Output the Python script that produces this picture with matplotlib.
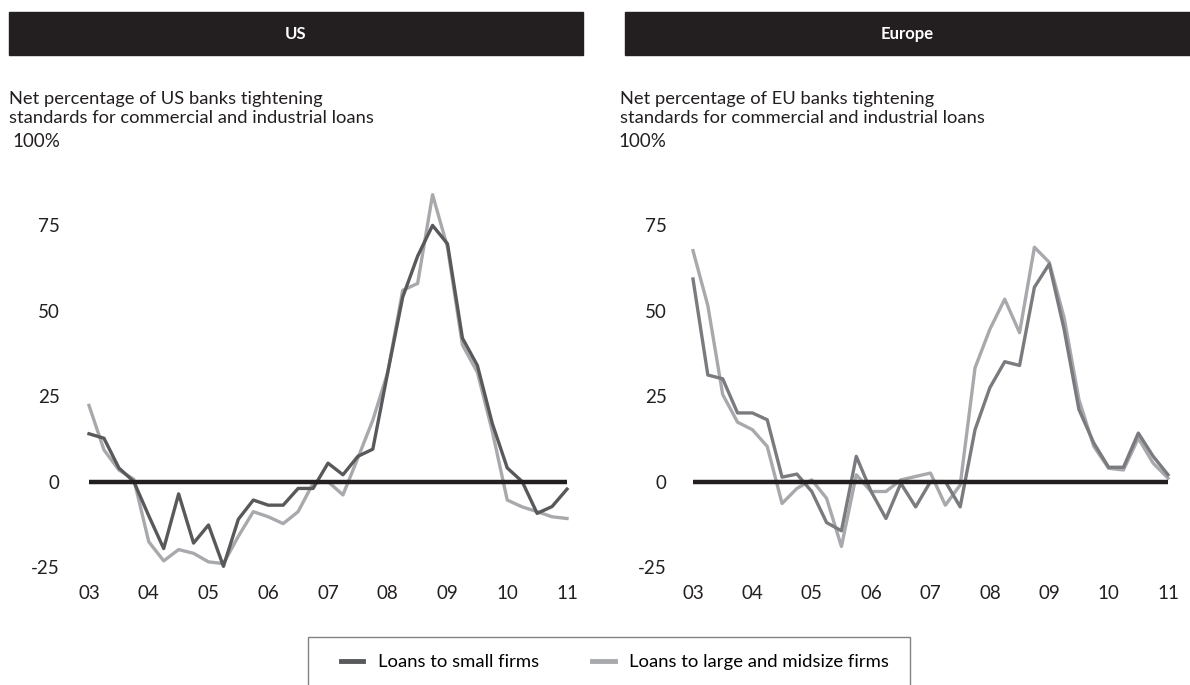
"""Net percentage of banks tightening C&I loan standards, US vs Europe."""

import matplotlib.pyplot as plt
from matplotlib.patches import Rectangle

plt.rcParams["font.family"] = ["Lato", "DejaVu Sans"]

W, H = 1190, 685

# quarterly, 2003 Q1 .. 2011 Q1
quarters = list(range(33))
year_labels = ["03", "04", "05", "06", "07", "08", "09", "10", "11"]
year_ticks = [0, 4, 8, 12, 16, 20, 24, 28, 32]
y_ticks = [-25, 0, 25, 50, 75, 100]
y_labels = ["-25", "0", "25", "50", "75", "100%"]

us_small = [14, 12.7, 4, 0, -10, -19.6, -3.6, -18, -12.7, -24.8, -11, -5.4, -6.9,
            -6.9, -2, -2, 5.4, 2, 7.4, 9.5, 32, 54, 66, 75, 69.6, 42, 34, 17, 4,
            0, -9.3, -7.3, -2.2]
us_large = [22.3, 9.3, 3.4, 0.7, -17.6, -23.2, -19.9, -21, -23.5, -24, -16, -8.8,
            -10.3, -12.3, -8.8, -0.5, 0, -3.9, 6.9, 18, 32, 56, 58, 84, 68.6, 40,
            32, 14.7, -5.4, -7.4, -8.8, -10.3, -10.8]
eu_small = [59.3, 31.2, 30.1, 20.1, 20.1, 18.1, 1.3, 2.2, -2.9, -12, -14.4, 7.4,
            -2.9, -10.8, -0.5, -7.4, 0, 0, -7.4, 15.2, 27.5, 35.1, 34, 56.9, 63.7,
            44.6, 21.1, 11.3, 4.2, 4.2, 14.2, 7.4, 2]
eu_large = [67.6, 51.5, 25.5, 17.4, 15.2, 10.3, -6.4, -2, 0.5, -4.9, -19, 2, -2.9,
            -2.9, 0.5, 1.5, 2.5, -6.9, -1, 33.3, 44.6, 53.4, 43.6, 68.6, 64.2, 48,
            24, 10.3, 3.9, 3.4, 12.7, 5.4, 1]

LIGHT = "#a7a9ac"
BAR = "#231f20"


def px_box(x0, y0, x1, y1):
    # pixel box (top-left origin) -> figure fraction rect
    return [x0 / W, 1 - y1 / H, (x1 - x0) / W, (y1 - y0) / H]


fig = plt.figure(figsize=(W / 100, H / 100), dpi=100)

panels = [
    ("US", "Net percentage of US banks tightening\nstandards for commercial and industrial loans",
     (9, 583), (89, 567), us_small, us_large, "#58595b", 21),
    ("Europe", "Net percentage of EU banks tightening\nstandards for commercial and industrial loans",
     (625, 1195), (693, 1168), eu_small, eu_large, "#7a7b7e", 19),
]

for title, sub, (bx0, bx1), (ax0, ax1), small, large, dark, ypad in panels:
    fig.patches.append(Rectangle((bx0 / W, 1 - 55 / H), (bx1 - bx0) / W, 43 / H,
                                 transform=fig.transFigure, color=BAR, zorder=0))
    fig.text((bx0 + min(bx1, W)) / 2 / W, 1 - 34 / H, title, color="white",
             fontsize=12, fontweight="bold", ha="center", va="center")
    tx = 9 if title == "US" else 620
    fig.text(tx / W, 1 - 91 / H, sub, fontsize=13.2, ha="left", va="top",
             color="#231f20", linespacing=1.22)

    ax = fig.add_axes(px_box(ax0, 140, ax1, 567))
    ax.plot(quarters, large, color=LIGHT, lw=2.4, clip_on=False, zorder=2)
    ax.plot(quarters, small, color=dark, lw=2.4, clip_on=False, zorder=2)
    ax.axhline(0, color=BAR, lw=3.2, zorder=3)
    ax.set_xlim(0, 32)
    ax.set_ylim(-25, 100)
    ax.set_xticks(year_ticks)
    ax.set_xticklabels(year_labels)
    ax.set_yticks(y_ticks)
    ax.set_yticklabels(y_labels)
    ax.tick_params(axis="y", length=0, pad=ypad, labelsize=13.5, labelcolor="#231f20")
    ax.tick_params(axis="x", length=0, pad=13, labelsize=13.5, labelcolor="#231f20")
    for s in ax.spines.values():
        s.set_visible(False)

# legend box, open at the bottom edge of the image
fig.patches.append(Rectangle((308 / W, -0.02), 602 / W, 1 - 637 / H + 0.02,
                             transform=fig.transFigure, fill=False,
                             edgecolor="#808285", lw=1.0))
h1, = fig.axes[0].plot([], [], color="#58595b", lw=3.5)
h2, = fig.axes[0].plot([], [], color=LIGHT, lw=3.5)
fig.legend([h1, h2], ["Loans to small firms", "Loans to large and midsize firms"],
           loc="center", bbox_to_anchor=(615 / W, 1 - 662 / H), ncol=2,
           frameon=False, fontsize=13.3, handlelength=1.2, handletextpad=0.8,
           columnspacing=2.9)

fig.savefig("out.png", dpi=100)
